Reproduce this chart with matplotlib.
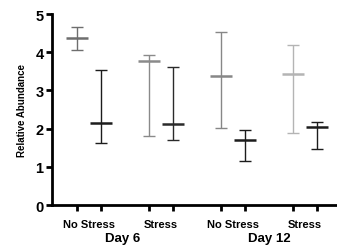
import matplotlib.pyplot as plt
import numpy as np
from matplotlib.transforms import blended_transform_factory

plt.rcParams['font.family'] = ['Liberation Sans', 'DejaVu Sans']

conditions = ['No Stress', 'Stress', 'No Stress', 'Stress']
days = ['Day 6', 'Day 12']

# each condition has a gray and a black series
gray_mean = [4.37, 3.77, 3.38, 3.43]
gray_hi = [4.66, 3.93, 4.53, 4.19]
gray_lo = [4.06, 1.81, 2.03, 1.88]
black_mean = [2.15, 2.12, 1.70, 2.04]
black_hi = [3.53, 3.62, 1.96, 2.17]
black_lo = [1.62, 1.70, 1.15, 1.47]

gray_colors = ['#6e6e6e', '#8a8a8a', '#878787', '#b4b4b4']
black_colors = ['#1c1c1c', '#2a2a2a', '#1c1c1c', '#1c1c1c']

xg = np.array([1, 4, 7, 10])
xb = xg + 1

fig = plt.figure(figsize=(3.37, 2.51), dpi=100)
ax = fig.add_axes([0.154, 0.179, 0.846, 0.761])

for i in range(4):
    for x, m, hi, lo, c in [(xg[i], gray_mean[i], gray_hi[i], gray_lo[i], gray_colors[i]),
                            (xb[i], black_mean[i], black_hi[i], black_lo[i], black_colors[i])]:
        ax.errorbar(x, m, yerr=[[m - lo], [hi - m]], fmt='none', ecolor=c,
                    elinewidth=1.0, capsize=4, capthick=1.0)
        ax.hlines(m, x - 0.45, x + 0.45, color=c, lw=1.8)

ax.set_xlim(-0.04, 11.83)
ax.set_ylim(0, 5)
ax.set_yticks([0, 1, 2, 3, 4, 5])
ax.tick_params(axis='y', labelsize=10.5, width=2, length=4, pad=2)
for t in ax.get_yticklabels():
    t.set_fontweight('bold')

ax.set_xticks(list(xg) + list(xb))
ax.set_xticklabels([])
ax.tick_params(axis='x', width=2, length=4)
ax.set_xticks(xg + 0.5, minor=True)
ax.set_xticklabels(conditions, minor=True, fontsize=8, fontweight='bold')
for t in ax.get_xticklabels(minor=True):
    t.set_fontstretch('expanded')
ax.tick_params(axis='x', which='minor', length=0, pad=10)

trans = blended_transform_factory(ax.transData, ax.transAxes)
ax.text(xg[0] + 1.9, -0.14, days[0], transform=trans, ha='center', va='top',
        fontsize=9.5, fontweight='bold')
ax.text(xg[2] + 2.0, -0.14, days[1], transform=trans, ha='center', va='top',
        fontsize=9.5, fontweight='bold')

ax.set_ylabel('Relative Abundance', fontsize=7, fontweight='bold', labelpad=6)

for s in ['top', 'right']:
    ax.spines[s].set_visible(False)
ax.spines['left'].set_linewidth(2)
ax.spines['bottom'].set_linewidth(2)

fig.savefig('out.png', dpi=100)
